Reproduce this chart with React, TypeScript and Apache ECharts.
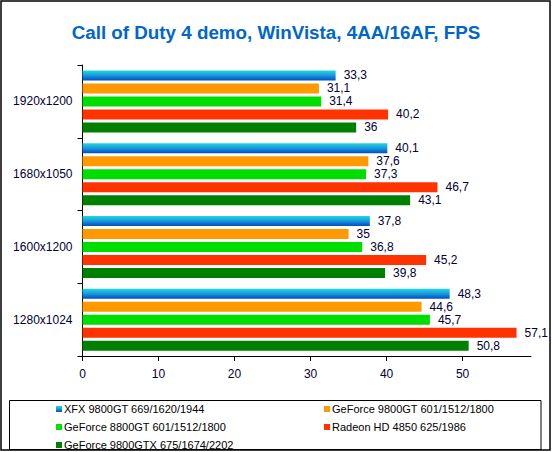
import React, { useEffect, useRef } from "react";
import * as echarts from "echarts";

const categories = ["1920x1200", "1680x1050", "1600x1200", "1280x1024"];
const seriesNames = [
  "XFX 9800GT 669/1620/1944",
  "GeForce 9800GT 601/1512/1800",
  "GeForce 8800GT 601/1512/1800",
  "Radeon HD 4850 625/1986",
  "GeForce 9800GTX 675/1674/2202",
];
const xfx = [33.3, 40.1, 37.8, 48.3];
const gf9800gt = [31.1, 37.6, 35, 44.6];
const gf8800gt = [31.4, 37.3, 36.8, 45.7];
const radeon = [40.2, 46.7, 45.2, 57.1];
const gf9800gtx = [36, 43.1, 39.8, 50.8];
const xTicks = [0, 10, 20, 30, 40, 50];

const FONT = 'Arial, "Liberation Sans", sans-serif';
const TXT = "#000033";

export default function App() {
  const ref = useRef<HTMLDivElement>(null);
  useEffect(() => {
    if (!ref.current) return;
    const chart = echarts.init(ref.current, undefined, { renderer: "svg" });
    const blue = new echarts.graphic.LinearGradient(0, 0, 0, 1, [
      { offset: 0, color: "#22dcd8" },
      { offset: 0.5, color: "#1a98e0" },
      { offset: 1, color: "#0050c0" },
    ]);
    const colors: any[] = [blue, "#ff9900", "#00dd00", "#ff3300", "#008000"];
    const datas = [xfx, gf9800gt, gf8800gt, radeon, gf9800gtx];
    const legendPos = [
      { left: 56, top: 403 },
      { left: 324, top: 403 },
      { left: 56, top: 421 },
      { left: 324, top: 421 },
      { left: 56, top: 439 },
    ];
    chart.setOption({
      animation: false,
      backgroundColor: "#ffffff",
      title: {
        text: "Call of Duty 4 demo, WinVista, 4AA/16AF, FPS",
        left: "center",
        top: 18,
        textStyle: { fontFamily: FONT, fontSize: 18.8, fontWeight: "bold", color: "#0066cc" },
      },
      legend: seriesNames.map((n, i) => ({
        data: [n],
        left: legendPos[i].left,
        top: legendPos[i].top,
        padding: 0,
        icon: "rect",
        itemWidth: 6,
        itemHeight: 6,
        selectedMode: false,
        textStyle: { fontFamily: FONT, fontSize: 11, color: "#000000", lineHeight: 12, padding: [0, 0, 0, -3] },
      })),
      grid: { left: 82.5, right: 21, top: 65, bottom: 96, containLabel: false },
      xAxis: {
        type: "value",
        min: 0,
        max: 59,
        interval: 10,
        axisLine: { show: true, lineStyle: { color: "#000000", width: 1 } },
        axisTick: { show: true, length: 5, customValues: xTicks, lineStyle: { color: "#000000" } },
        axisLabel: { customValues: xTicks, margin: 12, fontFamily: FONT, fontSize: 12, color: TXT },
        splitLine: { show: false },
      },
      yAxis: {
        type: "category",
        data: categories,
        inverse: true,
        axisLine: { show: true, lineStyle: { color: "#000000", width: 1 } },
        axisTick: { show: true, length: 5, lineStyle: { color: "#000000" } },
        axisLabel: { margin: 10, fontFamily: FONT, fontSize: 12, color: TXT },
        splitLine: { show: false },
      },
      series: seriesNames.map((n, i) => ({
        name: n,
        type: "bar",
        data: datas[i],
        barWidth: 10,
        barGap: "30%",
        itemStyle: { color: colors[i] },
        label: {
          show: true,
          position: "right",
          distance: 8,
          fontFamily: FONT,
          fontSize: 12,
          color: TXT,
          formatter: (p: any) => String(p.value).replace(".", ","),
        },
      })),
      graphic: [
        {
          type: "rect",
          shape: { x: 1, y: 1, width: 549, height: 449 },
          style: { fill: "none", stroke: "#000000", lineWidth: 1.5 },
          silent: true,
        },
        {
          type: "rect",
          shape: { x: 9.5, y: 400.5, width: 531.5, height: 49 },
          style: { fill: "none", stroke: "#000000", lineWidth: 1 },
          silent: true,
        },
      ],
    });
    return () => chart.dispose();
  }, []);
  return (
    <div
      ref={ref}
      style={{ position: "fixed", left: 0, top: 0, width: 552, height: 452 }}
    />
  );
}
